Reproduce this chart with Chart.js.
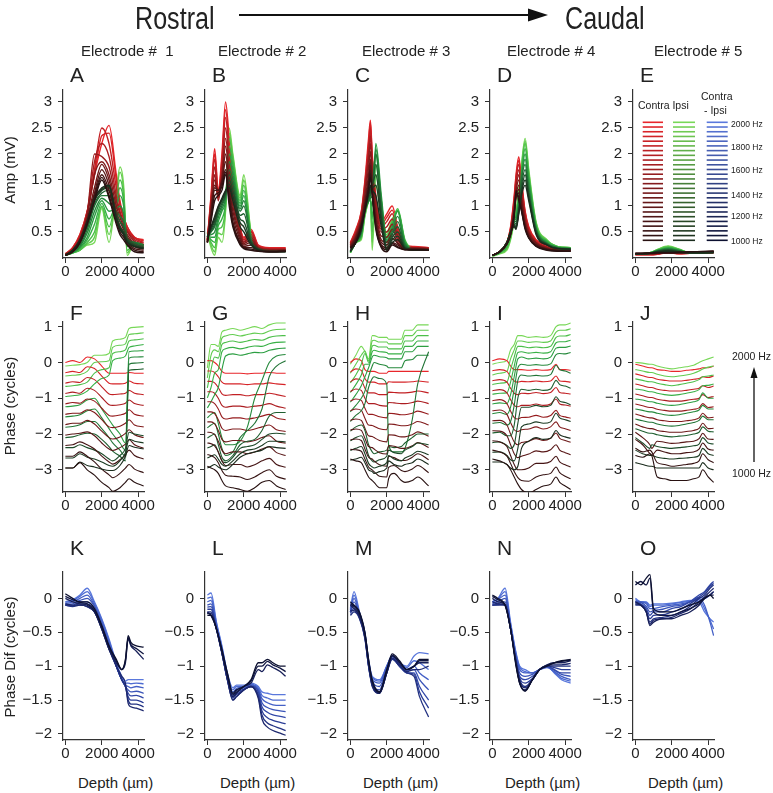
<!DOCTYPE html>
<html>
<head>
<meta charset="utf-8">
<script src="https://cdn.jsdelivr.net/npm/chart.js@4.4.0/dist/chart.umd.min.js"></script>
<style>
  html, body { margin: 0; padding: 0; background: #fff; }
  #fig { position: relative; width: 773px; height: 793px; overflow: hidden;
         font-family: "Liberation Sans", Arial, sans-serif; color: #222; }
  #fig canvas { position: absolute; }
  .t { position: absolute; white-space: pre; line-height: 1; }
</style>
</head>
<body>
<div id="fig"></div>
<script>
// ---- shared labels / ticks ----
const FREQS = [2000, 1900, 1800, 1700, 1600, 1500, 1400, 1300, 1200, 1100, 1000];
const CONTRA = ['#e8262b', '#d62327', '#c22024', '#ac1d21', '#961c1e', '#801a1b', '#6c1919', '#581717', '#461515', '#361313', '#281111'];
const IPSI = ['#78d858', '#62cc50', '#4cbf4a', '#38b046', '#2c9e42', '#26893c', '#217436', '#1f5f30', '#1e4b2a', '#1c3b23', '#1a2c1d'];
const DIFF = ['#5a78dc', '#4e6cd2', '#4460c6', '#3a54b8', '#3248a8', '#2a3d96', '#233282', '#1d286e', '#171f58', '#111742', '#0c1030'];
const X_TICKS = [0, 2000, 4000];
const AMP_TICKS = [0.5, 1, 1.5, 2, 2.5, 3];
const PHASE_TICKS = [1, 0, -1, -2, -3];
const DIF_TICKS = [0, -0.5, -1, -1.5, -2];
const ELECTRODES = ['Electrode #  1', 'Electrode # 2', 'Electrode # 3', 'Electrode # 4', 'Electrode # 5'];
const LETTERS = ['ABCDE', 'FGHIJ', 'KLMNO'];

// ---- amplitude (mV) vs depth (um); rows = 2000..1000 Hz ----
const depthA = [0, 400, 800, 1200, 1600, 2000, 2400, 2800, 3000, 3200, 3400, 3800, 4300];
const contraA = [
  [0.08, 0.2, 0.45, 0.9, 1.6, 2.2, 2.55, 1.6, 1.1, 0.8, 0.6, 0.4, 0.35],
  [0.08, 0.2, 0.45, 0.9, 1.6, 2.35, 2.4, 1.5, 1.05, 0.8, 0.6, 0.4, 0.33],
  [0.07, 0.18, 0.42, 0.88, 1.7, 2.5, 2.2, 1.35, 1.0, 0.75, 0.55, 0.38, 0.3],
  [0.07, 0.17, 0.4, 0.88, 1.85, 2.2, 1.95, 1.2, 0.9, 0.7, 0.52, 0.35, 0.28],
  [0.06, 0.16, 0.38, 0.85, 2.0, 1.95, 1.75, 1.1, 0.85, 0.65, 0.5, 0.32, 0.25],
  [0.06, 0.15, 0.36, 0.8, 1.6, 1.85, 1.6, 1.0, 0.78, 0.6, 0.45, 0.28, 0.22],
  [0.06, 0.15, 0.35, 0.75, 1.35, 1.8, 1.5, 0.9, 0.7, 0.55, 0.4, 0.25, 0.2],
  [0.05, 0.14, 0.33, 0.72, 1.25, 1.7, 1.4, 0.82, 0.62, 0.5, 0.35, 0.22, 0.17],
  [0.05, 0.13, 0.3, 0.7, 1.2, 1.6, 1.3, 0.75, 0.55, 0.45, 0.3, 0.18, 0.15],
  [0.05, 0.12, 0.3, 0.68, 1.15, 1.55, 1.2, 0.7, 0.5, 0.4, 0.27, 0.15, 0.12],
  [0.05, 0.12, 0.3, 0.65, 1.1, 1.5, 1.15, 0.65, 0.45, 0.35, 0.25, 0.12, 0.1]
];
const ipsiA = [
  [0.05, 0.1, 0.15, 0.25, 0.3, 0.95, 0.3, 1.3, 1.75, 1.4, 0.05, 0.3, 0.25],
  [0.05, 0.1, 0.15, 0.27, 0.4, 0.98, 0.45, 1.25, 1.65, 1.3, 0.1, 0.3, 0.25],
  [0.05, 0.1, 0.15, 0.3, 0.5, 1.0, 0.6, 1.2, 1.5, 1.2, 0.15, 0.3, 0.25],
  [0.05, 0.1, 0.18, 0.35, 0.65, 1.05, 0.75, 1.1, 1.35, 1.1, 0.22, 0.3, 0.25],
  [0.05, 0.1, 0.2, 0.4, 0.8, 1.1, 0.9, 1.0, 1.2, 1.0, 0.3, 0.3, 0.25],
  [0.05, 0.11, 0.22, 0.48, 0.9, 1.15, 1.05, 0.95, 1.0, 0.85, 0.35, 0.3, 0.25],
  [0.05, 0.12, 0.25, 0.55, 1.0, 1.2, 1.2, 0.9, 0.8, 0.7, 0.4, 0.3, 0.25],
  [0.05, 0.12, 0.28, 0.6, 1.05, 1.25, 1.3, 0.85, 0.7, 0.6, 0.38, 0.28, 0.22],
  [0.05, 0.13, 0.3, 0.65, 1.1, 1.3, 1.35, 0.8, 0.6, 0.5, 0.35, 0.25, 0.2],
  [0.06, 0.14, 0.32, 0.68, 1.12, 1.32, 1.38, 0.78, 0.58, 0.48, 0.32, 0.23, 0.19],
  [0.06, 0.15, 0.35, 0.7, 1.15, 1.35, 1.4, 0.75, 0.55, 0.45, 0.3, 0.22, 0.18]
];

const depthB = [0, 200, 400, 600, 800, 1000, 1200, 1400, 1800, 2000, 2400, 2800, 3400, 4300];
const contraB = [
  [0.35, 1.2, 2.1, 1.3, 2.0, 3.0, 2.3, 1.5, 0.6, 0.4, 0.55, 0.25, 0.2, 0.2],
  [0.35, 1.15, 2.0, 1.25, 1.9, 2.85, 2.15, 1.4, 0.58, 0.38, 0.52, 0.24, 0.19, 0.19],
  [0.35, 1.1, 1.9, 1.2, 1.8, 2.7, 2.0, 1.3, 0.55, 0.35, 0.5, 0.22, 0.18, 0.18],
  [0.34, 1.05, 1.75, 1.15, 1.7, 2.5, 1.85, 1.2, 0.52, 0.32, 0.45, 0.21, 0.17, 0.17],
  [0.33, 1.0, 1.6, 1.1, 1.6, 2.3, 1.7, 1.1, 0.5, 0.3, 0.4, 0.2, 0.16, 0.16],
  [0.32, 0.95, 1.5, 1.2, 1.55, 2.15, 1.55, 1.0, 0.45, 0.28, 0.35, 0.19, 0.15, 0.15],
  [0.3, 0.9, 1.4, 1.3, 1.5, 2.0, 1.4, 0.9, 0.4, 0.25, 0.3, 0.18, 0.14, 0.15],
  [0.3, 0.85, 1.35, 1.3, 1.48, 1.85, 1.3, 0.8, 0.35, 0.22, 0.25, 0.16, 0.13, 0.14],
  [0.3, 0.8, 1.3, 1.3, 1.45, 1.7, 1.2, 0.7, 0.3, 0.2, 0.2, 0.15, 0.13, 0.14],
  [0.3, 0.75, 1.2, 1.25, 1.38, 1.65, 1.1, 0.65, 0.28, 0.19, 0.17, 0.14, 0.12, 0.13],
  [0.3, 0.7, 1.1, 1.2, 1.3, 1.6, 1.0, 0.6, 0.25, 0.18, 0.15, 0.13, 0.12, 0.13]
];
const ipsiB = [
  [0.5, 0.2, 0.05, 0.4, 0.3, 0.9, 2.5, 2.0, 1.2, 1.6, 0.5, 0.2, 0.15, 0.15],
  [0.48, 0.25, 0.12, 0.48, 0.45, 0.95, 2.4, 1.95, 1.15, 1.5, 0.48, 0.2, 0.15, 0.15],
  [0.45, 0.3, 0.2, 0.55, 0.6, 1.0, 2.3, 1.9, 1.1, 1.4, 0.45, 0.2, 0.15, 0.15],
  [0.45, 0.35, 0.3, 0.62, 0.75, 1.05, 2.15, 1.8, 1.05, 1.3, 0.42, 0.19, 0.14, 0.14],
  [0.45, 0.4, 0.4, 0.7, 0.9, 1.1, 2.0, 1.7, 1.0, 1.2, 0.4, 0.18, 0.14, 0.14],
  [0.42, 0.45, 0.5, 0.78, 0.95, 1.15, 1.85, 1.6, 0.95, 1.1, 0.38, 0.18, 0.14, 0.14],
  [0.4, 0.5, 0.6, 0.85, 1.0, 1.2, 1.7, 1.5, 0.9, 1.0, 0.35, 0.18, 0.14, 0.14],
  [0.4, 0.52, 0.65, 0.9, 1.05, 1.22, 1.6, 1.4, 0.82, 0.85, 0.32, 0.17, 0.13, 0.13],
  [0.4, 0.55, 0.7, 0.95, 1.1, 1.25, 1.5, 1.3, 0.75, 0.7, 0.3, 0.17, 0.13, 0.13],
  [0.4, 0.58, 0.75, 0.98, 1.12, 1.28, 1.42, 1.2, 0.68, 0.6, 0.28, 0.16, 0.12, 0.12],
  [0.4, 0.6, 0.8, 1.0, 1.15, 1.3, 1.35, 1.1, 0.6, 0.5, 0.25, 0.15, 0.12, 0.12]
];

const depthC = [0, 300, 600, 800, 1000, 1100, 1200, 1400, 1700, 2000, 2300, 2600, 3000, 3500, 4300];
const contraC = [
  [0.3, 0.55, 0.9, 1.5, 2.3, 2.65, 2.0, 1.2, 0.7, 0.85, 1.0, 0.6, 0.25, 0.22, 0.2],
  [0.29, 0.52, 0.88, 1.45, 2.2, 2.6, 1.95, 1.15, 0.65, 0.78, 0.92, 0.55, 0.24, 0.21, 0.2],
  [0.28, 0.5, 0.85, 1.4, 2.1, 2.5, 1.9, 1.1, 0.6, 0.7, 0.85, 0.5, 0.22, 0.2, 0.2],
  [0.26, 0.48, 0.82, 1.35, 2.0, 2.35, 1.8, 1.05, 0.55, 0.6, 0.75, 0.45, 0.21, 0.2, 0.19],
  [0.25, 0.45, 0.8, 1.3, 1.9, 2.2, 1.7, 1.0, 0.5, 0.5, 0.65, 0.4, 0.2, 0.2, 0.18],
  [0.24, 0.42, 0.75, 1.2, 1.75, 2.05, 1.6, 0.9, 0.42, 0.4, 0.55, 0.35, 0.19, 0.19, 0.18],
  [0.22, 0.4, 0.7, 1.1, 1.6, 1.9, 1.5, 0.8, 0.35, 0.3, 0.45, 0.3, 0.18, 0.18, 0.17],
  [0.21, 0.38, 0.68, 1.05, 1.5, 1.8, 1.4, 0.72, 0.3, 0.25, 0.38, 0.28, 0.18, 0.17, 0.16],
  [0.2, 0.35, 0.65, 1.0, 1.4, 1.7, 1.3, 0.65, 0.25, 0.2, 0.3, 0.25, 0.17, 0.17, 0.16],
  [0.19, 0.32, 0.62, 0.95, 1.35, 1.62, 1.25, 0.6, 0.22, 0.16, 0.28, 0.22, 0.16, 0.16, 0.15],
  [0.18, 0.3, 0.6, 0.9, 1.3, 1.55, 1.2, 0.55, 0.2, 0.12, 0.25, 0.2, 0.16, 0.16, 0.15]
];
const ipsiC = [
  [0.1, 0.3, 0.35, 0.8, 1.1, 1.2, 0.15, 1.4, 0.8, 0.5, 0.75, 0.9, 0.3, 0.15, 0.15],
  [0.1, 0.3, 0.38, 0.82, 1.1, 1.18, 0.3, 1.6, 0.9, 0.45, 0.72, 0.92, 0.32, 0.16, 0.15],
  [0.1, 0.3, 0.4, 0.85, 1.1, 1.15, 0.5, 1.8, 1.0, 0.4, 0.7, 0.95, 0.35, 0.18, 0.15],
  [0.11, 0.3, 0.42, 0.88, 1.1, 1.12, 0.75, 2.0, 1.1, 0.38, 0.65, 0.92, 0.32, 0.18, 0.16],
  [0.12, 0.3, 0.45, 0.9, 1.1, 1.1, 1.0, 2.2, 1.2, 0.35, 0.6, 0.9, 0.3, 0.18, 0.16],
  [0.12, 0.3, 0.48, 0.9, 1.1, 1.15, 1.2, 2.1, 1.1, 0.32, 0.55, 0.8, 0.28, 0.17, 0.16],
  [0.12, 0.3, 0.5, 0.9, 1.1, 1.2, 1.4, 2.0, 1.0, 0.3, 0.5, 0.7, 0.25, 0.17, 0.16],
  [0.12, 0.3, 0.52, 0.92, 1.15, 1.25, 1.4, 1.8, 0.9, 0.25, 0.45, 0.6, 0.22, 0.16, 0.15],
  [0.13, 0.3, 0.55, 0.95, 1.2, 1.3, 1.4, 1.6, 0.8, 0.2, 0.4, 0.5, 0.2, 0.16, 0.15],
  [0.13, 0.3, 0.55, 0.95, 1.22, 1.35, 1.35, 1.4, 0.7, 0.18, 0.35, 0.42, 0.19, 0.15, 0.15],
  [0.13, 0.3, 0.55, 0.95, 1.25, 1.4, 1.3, 1.2, 0.6, 0.15, 0.3, 0.35, 0.18, 0.15, 0.15]
];

const depthD = [0, 400, 800, 1000, 1200, 1300, 1450, 1600, 1800, 2000, 2400, 3000, 3600, 4300];
const contraD = [
  [0.05, 0.12, 0.3, 0.6, 1.2, 1.6, 1.95, 1.5, 0.9, 0.6, 0.35, 0.25, 0.18, 0.17],
  [0.05, 0.12, 0.3, 0.58, 1.15, 1.55, 1.88, 1.45, 0.88, 0.58, 0.34, 0.24, 0.18, 0.17],
  [0.05, 0.12, 0.3, 0.55, 1.1, 1.5, 1.8, 1.4, 0.85, 0.55, 0.32, 0.22, 0.17, 0.16],
  [0.05, 0.12, 0.3, 0.52, 1.05, 1.42, 1.7, 1.32, 0.8, 0.52, 0.31, 0.21, 0.17, 0.16],
  [0.05, 0.12, 0.3, 0.5, 1.0, 1.35, 1.6, 1.25, 0.75, 0.5, 0.3, 0.2, 0.16, 0.15],
  [0.05, 0.12, 0.29, 0.5, 0.95, 1.28, 1.5, 1.18, 0.7, 0.48, 0.29, 0.19, 0.16, 0.15],
  [0.05, 0.12, 0.28, 0.5, 0.9, 1.2, 1.4, 1.1, 0.65, 0.45, 0.28, 0.18, 0.15, 0.15],
  [0.05, 0.12, 0.28, 0.48, 0.88, 1.18, 1.32, 1.02, 0.62, 0.42, 0.26, 0.17, 0.15, 0.14],
  [0.05, 0.12, 0.28, 0.45, 0.85, 1.15, 1.25, 0.95, 0.6, 0.4, 0.25, 0.17, 0.14, 0.14],
  [0.05, 0.12, 0.27, 0.45, 0.82, 1.22, 1.18, 0.92, 0.58, 0.39, 0.23, 0.16, 0.14, 0.13],
  [0.05, 0.12, 0.27, 0.45, 0.8, 1.3, 1.1, 0.9, 0.55, 0.38, 0.22, 0.15, 0.13, 0.13]
];
const ipsiD = [
  [0.03, 0.08, 0.15, 0.35, 0.7, 0.9, 1.3, 1.8, 2.3, 1.7, 0.7, 0.35, 0.22, 0.2],
  [0.04, 0.09, 0.18, 0.38, 0.72, 0.88, 1.25, 1.75, 2.25, 1.65, 0.68, 0.34, 0.22, 0.2],
  [0.04, 0.1, 0.2, 0.4, 0.75, 0.85, 1.2, 1.7, 2.2, 1.6, 0.65, 0.33, 0.22, 0.2],
  [0.05, 0.1, 0.22, 0.42, 0.75, 0.82, 1.15, 1.65, 2.1, 1.55, 0.62, 0.32, 0.21, 0.19],
  [0.05, 0.1, 0.25, 0.45, 0.75, 0.8, 1.1, 1.6, 2.0, 1.5, 0.6, 0.3, 0.2, 0.18],
  [0.05, 0.11, 0.27, 0.48, 0.72, 0.75, 1.05, 1.55, 1.9, 1.4, 0.58, 0.29, 0.2, 0.18],
  [0.05, 0.12, 0.28, 0.5, 0.7, 0.7, 1.0, 1.5, 1.8, 1.3, 0.55, 0.28, 0.2, 0.18],
  [0.05, 0.12, 0.29, 0.5, 0.68, 0.65, 0.95, 1.4, 1.7, 1.25, 0.52, 0.27, 0.19, 0.17],
  [0.05, 0.12, 0.3, 0.5, 0.65, 0.6, 0.9, 1.3, 1.6, 1.2, 0.5, 0.26, 0.18, 0.17],
  [0.05, 0.12, 0.3, 0.5, 0.62, 0.58, 0.88, 1.25, 1.5, 1.15, 0.48, 0.25, 0.18, 0.17],
  [0.05, 0.12, 0.3, 0.5, 0.6, 0.55, 0.85, 1.2, 1.4, 1.1, 0.45, 0.25, 0.18, 0.17]
];

const depthE = [0, 800, 1200, 1800, 2400, 3000, 4300];
const contraE = [
  [0.06, 0.06, 0.07, 0.1, 0.08, 0.09, 0.1],
  [0.06, 0.06, 0.07, 0.11, 0.08, 0.09, 0.1],
  [0.07, 0.07, 0.08, 0.12, 0.09, 0.1, 0.11],
  [0.07, 0.07, 0.08, 0.12, 0.09, 0.1, 0.11],
  [0.07, 0.08, 0.09, 0.12, 0.1, 0.1, 0.12],
  [0.08, 0.08, 0.09, 0.11, 0.1, 0.1, 0.12],
  [0.08, 0.08, 0.09, 0.11, 0.1, 0.11, 0.12],
  [0.08, 0.09, 0.1, 0.1, 0.1, 0.11, 0.12],
  [0.08, 0.09, 0.1, 0.1, 0.1, 0.11, 0.13],
  [0.09, 0.09, 0.1, 0.1, 0.11, 0.12, 0.13],
  [0.09, 0.09, 0.1, 0.1, 0.11, 0.12, 0.13]
];
const ipsiE = [
  [0.07, 0.1, 0.16, 0.23, 0.17, 0.1, 0.12],
  [0.07, 0.1, 0.16, 0.22, 0.17, 0.1, 0.12],
  [0.07, 0.1, 0.15, 0.21, 0.16, 0.1, 0.12],
  [0.07, 0.1, 0.15, 0.2, 0.16, 0.1, 0.11],
  [0.07, 0.1, 0.14, 0.19, 0.15, 0.1, 0.11],
  [0.07, 0.09, 0.14, 0.18, 0.14, 0.1, 0.11],
  [0.07, 0.09, 0.13, 0.17, 0.14, 0.1, 0.11],
  [0.07, 0.09, 0.13, 0.16, 0.13, 0.1, 0.11],
  [0.07, 0.09, 0.12, 0.15, 0.12, 0.1, 0.11],
  [0.07, 0.09, 0.12, 0.14, 0.12, 0.1, 0.1],
  [0.07, 0.09, 0.11, 0.13, 0.11, 0.1, 0.1]
];

// ---- phase (cycles) vs depth ----
const depthF = [0, 400, 800, 1200, 1600, 2000, 2400, 2600, 3000, 3300, 3500, 3800, 4300];
const contraF = [
  [0.0, 0.05, 0.0, 0.15, 0.1, -0.1, -0.3, -0.3, -0.3, -0.3, -0.28, -0.3, -0.3],
  [-0.29, -0.25, -0.28, -0.12, -0.17, -0.38, -0.58, -0.6, -0.6, -0.58, -0.52, -0.58, -0.6],
  [-0.58, -0.54, -0.56, -0.42, -0.48, -0.68, -0.88, -0.9, -0.88, -0.86, -0.78, -0.86, -0.9],
  [-0.87, -0.83, -0.86, -0.72, -0.78, -0.98, -1.18, -1.2, -1.18, -1.14, -1.05, -1.15, -1.2],
  [-1.16, -1.12, -1.14, -1.02, -1.08, -1.28, -1.48, -1.5, -1.47, -1.42, -1.32, -1.45, -1.5],
  [-1.45, -1.42, -1.42, -1.32, -1.4, -1.6, -1.8, -1.82, -1.78, -1.7, -1.6, -1.75, -1.8],
  [-1.74, -1.7, -1.7, -1.62, -1.72, -1.92, -2.1, -2.14, -2.08, -1.98, -1.88, -2.02, -2.1],
  [-2.03, -2.0, -1.98, -1.94, -2.05, -2.25, -2.42, -2.46, -2.38, -2.28, -2.16, -2.3, -2.4],
  [-2.32, -2.3, -2.22, -2.3, -2.42, -2.62, -2.78, -2.84, -2.72, -2.58, -2.45, -2.6, -2.7],
  [-2.62, -2.62, -2.5, -2.62, -2.78, -2.98, -3.14, -3.22, -3.1, -2.95, -2.85, -2.98, -3.08],
  [-2.95, -2.95, -2.8, -3.0, -3.15, -3.35, -3.5, -3.6, -3.5, -3.35, -3.25, -3.35, -3.45]
];
const ipsiF = [
  [-0.1, -0.08, -0.06, 0.0, 0.2, 0.2, 0.25, 0.6, 0.65, 0.7, 0.95, 0.98, 1.0],
  [-0.38, -0.36, -0.34, -0.25, 0.0, 0.02, 0.05, 0.42, 0.48, 0.52, 0.78, 0.8, 0.83],
  [-0.67, -0.65, -0.62, -0.55, -0.3, -0.2, -0.15, 0.25, 0.3, 0.35, 0.6, 0.63, 0.66],
  [-0.95, -0.93, -0.9, -0.8, -0.6, -0.45, -0.35, 0.05, 0.12, 0.18, 0.42, 0.46, 0.5],
  [-1.24, -1.22, -1.18, -1.05, -1.0, -1.3, -1.6, -1.75, -2.0, -2.25, 0.3, 0.32, 0.33],
  [-1.52, -1.5, -1.46, -1.35, -1.3, -1.55, -1.85, -2.0, -2.25, -2.45, 0.12, 0.15, 0.16],
  [-1.81, -1.79, -1.74, -1.65, -1.65, -1.85, -2.1, -2.25, -2.45, -2.62, -0.05, -0.02, 0.0],
  [-2.1, -2.08, -2.02, -1.98, -2.0, -2.15, -2.35, -2.48, -2.62, -2.75, -0.22, -0.2, -0.18],
  [-2.38, -2.38, -2.3, -2.38, -2.45, -2.55, -2.7, -2.75, -2.6, -2.4, -1.95, -2.0, -2.05],
  [-2.67, -2.67, -2.55, -2.65, -2.7, -2.78, -2.88, -2.9, -2.75, -2.52, -2.15, -2.2, -2.25],
  [-2.95, -2.95, -2.78, -2.88, -2.92, -2.98, -3.02, -3.02, -2.88, -2.62, -2.32, -2.37, -2.42]
];

const depthG = [0, 200, 400, 600, 800, 1000, 1400, 1800, 2200, 2600, 3000, 3400, 3800, 4300];
const contraG = [
  [0.05, 0.05, 0.0, -0.1, -0.25, -0.3, -0.3, -0.3, -0.32, -0.3, -0.3, -0.28, -0.3, -0.3],
  [-0.24, -0.24, -0.28, -0.4, -0.55, -0.6, -0.6, -0.6, -0.62, -0.6, -0.6, -0.57, -0.6, -0.62],
  [-0.53, -0.53, -0.57, -0.7, -0.88, -0.92, -0.9, -0.9, -0.93, -0.9, -0.9, -0.86, -0.9, -0.95],
  [-0.82, -0.82, -0.86, -1.0, -1.2, -1.25, -1.22, -1.22, -1.25, -1.22, -1.2, -1.15, -1.22, -1.28],
  [-1.1, -1.1, -1.15, -1.3, -1.52, -1.58, -1.55, -1.55, -1.58, -1.55, -1.5, -1.45, -1.55, -1.6],
  [-1.38, -1.38, -1.43, -1.6, -1.84, -1.9, -1.86, -1.86, -1.9, -1.86, -1.8, -1.75, -1.88, -1.93],
  [-1.66, -1.66, -1.72, -1.9, -2.15, -2.22, -2.18, -2.18, -2.22, -2.18, -2.1, -2.05, -2.2, -2.26],
  [-1.95, -1.96, -2.02, -2.2, -2.45, -2.55, -2.5, -2.5, -2.55, -2.5, -2.42, -2.36, -2.52, -2.6],
  [-2.25, -2.27, -2.33, -2.5, -2.75, -2.88, -2.85, -2.85, -2.92, -2.86, -2.75, -2.68, -2.85, -2.93],
  [-2.57, -2.6, -2.66, -2.8, -3.02, -3.15, -3.18, -3.2, -3.27, -3.2, -3.08, -3.0, -3.18, -3.26],
  [-2.9, -2.95, -3.0, -3.1, -3.3, -3.45, -3.5, -3.55, -3.6, -3.5, -3.35, -3.3, -3.45, -3.55]
];
const ipsiG = [
  [-0.15, 0.5, 0.5, 0.45, 0.85, 0.9, 0.95, 0.9, 0.95, 1.0, 0.95, 1.05, 1.1, 1.1],
  [-0.43, 0.2, 0.35, 0.3, 0.68, 0.74, 0.78, 0.74, 0.78, 0.82, 0.8, 0.88, 0.92, 0.93],
  [-0.71, -0.2, 0.15, 0.12, 0.5, 0.56, 0.6, 0.56, 0.6, 0.64, 0.62, 0.7, 0.74, 0.75],
  [-0.99, -0.7, -0.3, -0.2, 0.3, 0.38, 0.42, 0.38, 0.42, 0.46, 0.45, 0.52, 0.56, 0.57],
  [-1.27, -1.1, -0.9, -0.7, -0.2, 0.18, 0.24, 0.2, 0.24, 0.28, 0.27, 0.34, 0.38, 0.4],
  [-1.55, -1.45, -1.4, -1.7, -2.1, -2.3, -2.3, -2.2, -1.8, -1.0, -0.5, 0.0, 0.18, 0.22],
  [-1.83, -1.75, -1.7, -2.0, -2.4, -2.6, -2.5, -2.1, -1.9, -1.7, -1.3, -0.4, -0.1, 0.05],
  [-2.11, -2.05, -2.0, -2.3, -2.65, -2.75, -2.6, -2.3, -2.2, -2.15, -1.9, -1.5, -1.4, -1.4],
  [-2.39, -2.35, -2.3, -2.5, -2.75, -2.8, -2.65, -2.4, -2.35, -2.3, -2.15, -2.0, -1.98, -2.0],
  [-2.67, -2.62, -2.58, -2.7, -2.85, -2.9, -2.75, -2.55, -2.45, -2.42, -2.32, -2.2, -2.2, -2.22],
  [-2.95, -2.9, -2.85, -2.92, -2.98, -3.0, -2.85, -2.65, -2.55, -2.5, -2.45, -2.35, -2.38, -2.4]
];

const depthH = [0, 300, 600, 800, 1000, 1200, 1300, 1600, 2000, 2100, 2400, 2800, 3000, 3400, 3700, 4300];
const contraH = [
  [0.0, 0.1, 0.05, -0.2, -0.25, -0.25, -0.25, -0.3, -0.3, -0.25, -0.25, -0.25, -0.25, -0.25, -0.25, -0.25],
  [-0.27, -0.18, -0.22, -0.45, -0.55, -0.55, -0.55, -0.6, -0.6, -0.54, -0.55, -0.55, -0.55, -0.54, -0.52, -0.55],
  [-0.54, -0.46, -0.5, -0.72, -0.85, -0.85, -0.85, -0.9, -0.9, -0.83, -0.84, -0.85, -0.85, -0.83, -0.8, -0.85],
  [-0.81, -0.74, -0.78, -1.0, -1.15, -1.15, -1.15, -1.2, -1.22, -1.12, -1.13, -1.15, -1.15, -1.12, -1.08, -1.15],
  [-1.08, -1.02, -1.06, -1.28, -1.45, -1.45, -1.46, -1.52, -1.55, -1.42, -1.43, -1.46, -1.46, -1.42, -1.36, -1.45],
  [-1.35, -1.3, -1.34, -1.56, -1.75, -1.76, -1.78, -1.85, -1.88, -1.72, -1.73, -1.77, -1.77, -1.72, -1.65, -1.75],
  [-1.62, -1.58, -1.62, -1.84, -2.05, -2.07, -2.1, -2.18, -2.22, -2.02, -2.03, -2.08, -2.08, -2.02, -1.94, -2.06],
  [-1.89, -1.86, -1.9, -2.12, -2.35, -2.38, -2.42, -2.52, -2.56, -2.32, -2.34, -2.4, -2.4, -2.33, -2.24, -2.38],
  [-2.16, -2.14, -2.18, -2.42, -2.65, -2.7, -2.75, -2.86, -2.9, -2.62, -2.66, -2.74, -2.74, -2.65, -2.55, -2.72],
  [-2.43, -2.44, -2.48, -2.7, -2.92, -3.0, -3.05, -3.18, -3.2, -2.93, -2.88, -3.02, -3.05, -2.98, -2.88, -3.08],
  [-2.7, -2.75, -2.8, -3.0, -3.2, -3.3, -3.35, -3.5, -3.5, -3.25, -3.1, -3.3, -3.35, -3.3, -3.2, -3.45]
];
const ipsiH = [
  [-0.05, 0.2, 0.45, 0.3, 0.1, 0.75, 0.75, 0.7, 0.7, 0.65, 0.65, 0.65, 0.9, 0.9, 1.05, 1.05],
  [-0.3, -0.05, 0.2, 0.32, 0.05, 0.6, 0.62, 0.57, 0.57, 0.52, 0.52, 0.52, 0.75, 0.75, 0.9, 0.9],
  [-0.57, -0.35, -0.05, 0.25, 0.0, 0.45, 0.48, 0.43, 0.43, 0.38, 0.38, 0.38, 0.6, 0.6, 0.75, 0.75],
  [-0.84, -0.62, -0.35, -0.05, -0.05, 0.3, 0.34, 0.3, 0.28, 0.24, 0.24, 0.24, 0.45, 0.45, 0.6, 0.6],
  [-1.11, -0.9, -0.65, -0.4, -0.15, 0.15, 0.2, 0.16, 0.13, 0.1, 0.1, 0.1, 0.3, 0.3, 0.45, 0.45],
  [-1.38, -1.2, -1.0, -0.8, -0.4, -0.1, 0.0, -0.05, -0.1, -0.15, -0.15, -0.15, 0.05, 0.08, 0.2, 0.2],
  [-1.65, -1.48, -1.35, -1.15, -0.7, -0.45, -0.4, -0.45, -0.6, -2.3, -2.5, -2.5, -2.4, -1.6, -0.6, 0.3],
  [-1.92, -1.8, -1.75, -1.9, -2.3, -2.5, -2.55, -2.5, -2.45, -2.35, -2.38, -2.35, -2.25, -2.1, -2.0, -2.0],
  [-2.19, -2.1, -2.05, -2.25, -2.6, -2.75, -2.78, -2.72, -2.62, -2.45, -2.52, -2.55, -2.45, -2.35, -2.25, -2.3],
  [-2.46, -2.4, -2.35, -2.55, -2.82, -2.92, -2.95, -2.9, -2.8, -2.6, -2.7, -2.75, -2.67, -2.58, -2.48, -2.58],
  [-2.73, -2.7, -2.65, -2.8, -3.0, -3.05, -3.1, -3.05, -2.95, -2.75, -2.85, -2.9, -2.85, -2.8, -2.7, -2.85]
];

const depthI = [0, 400, 800, 1000, 1200, 1400, 1600, 2000, 2400, 2800, 3200, 3500, 3700, 4000, 4300];
const contraI = [
  [0.05, 0.1, 0.05, -0.1, -0.2, -0.2, -0.2, -0.22, -0.2, -0.22, -0.2, -0.05, -0.2, -0.2, -0.22],
  [-0.23, -0.2, -0.25, -0.4, -0.52, -0.55, -0.53, -0.54, -0.52, -0.54, -0.52, -0.38, -0.52, -0.53, -0.55],
  [-0.51, -0.48, -0.55, -0.72, -0.86, -0.9, -0.86, -0.87, -0.84, -0.87, -0.84, -0.7, -0.84, -0.86, -0.88],
  [-0.79, -0.76, -0.85, -1.04, -1.2, -1.24, -1.2, -1.2, -1.16, -1.2, -1.16, -1.02, -1.16, -1.19, -1.22],
  [-1.07, -1.04, -1.15, -1.36, -1.54, -1.58, -1.54, -1.53, -1.48, -1.53, -1.48, -1.34, -1.48, -1.52, -1.56],
  [-1.35, -1.33, -1.45, -1.68, -1.88, -1.93, -1.88, -1.86, -1.8, -1.86, -1.8, -1.66, -1.8, -1.85, -1.9],
  [-1.63, -1.62, -1.75, -2.0, -2.22, -2.3, -2.24, -2.2, -2.13, -2.18, -2.12, -1.97, -2.12, -2.18, -2.23],
  [-1.91, -1.92, -2.05, -2.3, -2.55, -2.66, -2.62, -2.56, -2.47, -2.5, -2.44, -2.3, -2.45, -2.52, -2.58],
  [-2.19, -2.22, -2.35, -2.6, -2.85, -3.0, -3.0, -2.95, -2.82, -2.82, -2.77, -2.62, -2.78, -2.86, -2.92],
  [-2.45, -2.5, -2.62, -2.82, -3.05, -3.22, -3.3, -3.32, -3.2, -3.14, -3.1, -2.92, -3.08, -3.18, -3.25],
  [-2.7, -2.75, -2.85, -3.0, -3.2, -3.4, -3.55, -3.65, -3.55, -3.45, -3.4, -3.2, -3.35, -3.45, -3.55]
];
const ipsiI = [
  [-0.05, 0.0, 0.05, 0.35, 0.5, 0.75, 0.75, 0.7, 0.72, 0.7, 0.75, 1.0, 1.05, 1.05, 1.1],
  [-0.35, -0.3, -0.25, 0.1, 0.35, 0.6, 0.6, 0.56, 0.58, 0.56, 0.6, 0.85, 0.9, 0.9, 0.94],
  [-0.62, -0.58, -0.55, -0.2, 0.15, 0.45, 0.45, 0.41, 0.43, 0.41, 0.45, 0.7, 0.74, 0.74, 0.78],
  [-0.89, -0.86, -0.85, -0.55, -0.1, 0.28, 0.3, 0.26, 0.28, 0.26, 0.3, 0.55, 0.58, 0.58, 0.62],
  [-1.16, -1.13, -1.15, -0.9, -0.4, 0.1, 0.15, 0.1, 0.12, 0.1, 0.15, 0.4, 0.42, 0.42, 0.46],
  [-1.43, -1.4, -1.45, -1.25, -0.75, -0.15, -0.05, -0.08, -0.06, -0.08, -0.04, 0.22, 0.25, 0.24, 0.28],
  [-1.7, -1.68, -1.75, -1.65, -1.2, -0.5, -0.35, -0.38, -0.36, -0.38, -0.34, -0.08, -0.2, -0.24, -0.3],
  [-1.97, -1.95, -2.05, -2.05, -1.75, -1.0, -0.75, -0.78, -0.75, -0.78, -0.74, -0.5, -0.62, -0.66, -0.72],
  [-2.24, -2.22, -2.32, -2.4, -2.3, -1.7, -1.25, -1.25, -1.2, -1.24, -1.2, -0.96, -1.08, -1.12, -1.18],
  [-2.51, -2.5, -2.6, -2.72, -2.75, -2.4, -1.8, -1.72, -1.66, -1.7, -1.66, -1.42, -1.55, -1.6, -1.65],
  [-2.78, -2.78, -2.85, -2.95, -3.0, -2.9, -2.4, -2.2, -2.1, -2.15, -2.12, -1.9, -2.02, -2.08, -2.12]
];

const depthJ = [0, 400, 800, 900, 1200, 1600, 2000, 2400, 2800, 3200, 3500, 3700, 4000, 4300];
const contraJ = [
  [-0.05, -0.1, -0.15, -0.15, -0.2, -0.22, -0.25, -0.25, -0.22, -0.2, -0.18, -0.15, -0.15, -0.1],
  [-0.32, -0.37, -0.42, -0.42, -0.47, -0.5, -0.52, -0.52, -0.5, -0.47, -0.45, -0.4, -0.42, -0.38],
  [-0.6, -0.65, -0.7, -0.7, -0.75, -0.78, -0.8, -0.8, -0.78, -0.75, -0.72, -0.65, -0.7, -0.66],
  [-0.88, -0.93, -0.98, -0.98, -1.03, -1.06, -1.08, -1.08, -1.06, -1.03, -1.0, -0.9, -0.98, -0.95],
  [-1.16, -1.21, -1.26, -1.26, -1.31, -1.34, -1.36, -1.36, -1.34, -1.31, -1.27, -1.15, -1.26, -1.24],
  [-1.44, -1.5, -1.55, -1.55, -1.6, -1.63, -1.65, -1.65, -1.63, -1.6, -1.55, -1.42, -1.55, -1.53],
  [-1.72, -1.8, -1.85, -1.85, -1.9, -1.93, -1.95, -1.95, -1.93, -1.9, -1.84, -1.7, -1.85, -1.84],
  [-1.95, -2.1, -2.3, -2.4, -2.2, -2.23, -2.26, -2.25, -2.22, -2.2, -2.13, -1.98, -2.14, -2.15],
  [-2.15, -2.3, -2.55, -2.6, -2.45, -2.5, -2.55, -2.55, -2.52, -2.5, -2.42, -2.25, -2.42, -2.45],
  [-2.4, -2.5, -2.45, -2.5, -2.8, -2.85, -2.9, -2.88, -2.85, -2.82, -2.75, -2.55, -2.72, -2.8],
  [-2.6, -2.65, -2.55, -2.6, -3.2, -3.25, -3.3, -3.3, -3.3, -3.25, -3.2, -3.0, -3.2, -3.35]
];
const ipsiJ = [
  [0.0, -0.02, -0.05, -0.05, -0.1, -0.15, -0.18, -0.15, -0.12, -0.08, 0.0, 0.05, 0.1, 0.15],
  [-0.2, -0.24, -0.28, -0.28, -0.33, -0.38, -0.4, -0.38, -0.35, -0.3, -0.24, -0.18, -0.13, -0.1],
  [-0.46, -0.5, -0.54, -0.54, -0.58, -0.62, -0.65, -0.62, -0.58, -0.54, -0.48, -0.4, -0.38, -0.35],
  [-0.74, -0.77, -0.82, -0.82, -0.86, -0.9, -0.92, -0.9, -0.86, -0.82, -0.76, -0.65, -0.64, -0.6],
  [-1.02, -1.05, -1.1, -1.1, -1.14, -1.18, -1.2, -1.18, -1.14, -1.1, -1.04, -0.85, -1.0, -1.0],
  [-1.3, -1.34, -1.38, -1.38, -1.42, -1.46, -1.48, -1.46, -1.42, -1.38, -1.33, -1.2, -1.3, -1.3],
  [-1.58, -1.63, -1.67, -1.67, -1.72, -1.76, -1.78, -1.76, -1.72, -1.68, -1.62, -1.5, -1.6, -1.6],
  [-1.85, -1.92, -1.98, -1.98, -2.02, -2.06, -2.08, -2.06, -2.04, -2.0, -1.95, -1.8, -1.92, -1.94],
  [-2.1, -2.25, -2.4, -2.3, -2.35, -2.38, -2.4, -2.38, -2.36, -2.33, -2.28, -2.1, -2.25, -2.28],
  [-2.45, -2.55, -2.6, -2.6, -2.65, -2.68, -2.7, -2.68, -2.67, -2.65, -2.6, -2.4, -2.55, -2.6],
  [-2.8, -2.85, -2.9, -2.9, -2.95, -2.95, -2.95, -2.95, -2.95, -2.95, -2.95, -2.8, -2.95, -3.0]
];

// ---- phase difference contra - ipsi (cycles) ----
const depthK = [0, 400, 800, 1200, 1600, 2000, 2400, 2800, 3100, 3300, 3450, 3600, 3900, 4300];
const diffK = [
  [-0.05, -0.02, 0.05, 0.15, -0.05, -0.3, -0.6, -0.95, -1.15, -1.22, -1.2, -1.2, -1.2, -1.2],
  [-0.06, -0.03, 0.03, 0.1, -0.07, -0.32, -0.62, -0.97, -1.17, -1.25, -1.25, -1.26, -1.25, -1.26],
  [-0.08, -0.05, 0.0, 0.05, -0.1, -0.35, -0.65, -1.0, -1.2, -1.28, -1.3, -1.32, -1.3, -1.32],
  [-0.09, -0.08, -0.03, 0.0, -0.12, -0.38, -0.68, -1.0, -1.2, -1.3, -1.35, -1.38, -1.37, -1.4],
  [-0.1, -0.1, -0.05, -0.05, -0.15, -0.4, -0.7, -1.0, -1.2, -1.3, -1.4, -1.44, -1.43, -1.47],
  [-0.1, -0.11, -0.08, -0.08, -0.17, -0.42, -0.72, -1.0, -1.2, -1.3, -1.45, -1.5, -1.5, -1.54],
  [-0.1, -0.12, -0.1, -0.12, -0.2, -0.45, -0.75, -1.0, -1.2, -1.3, -1.5, -1.56, -1.56, -1.6],
  [-0.08, -0.1, -0.1, -0.12, -0.2, -0.45, -0.75, -1.0, -1.15, -1.25, -1.55, -1.6, -1.62, -1.66],
  [0.0, -0.05, -0.08, -0.1, -0.2, -0.45, -0.75, -0.95, -1.05, -0.95, -0.6, -0.7, -0.78, -0.9],
  [0.03, -0.02, -0.06, -0.08, -0.18, -0.42, -0.72, -0.92, -1.05, -0.92, -0.58, -0.68, -0.74, -0.82],
  [0.07, 0.0, -0.05, -0.05, -0.15, -0.4, -0.7, -0.9, -1.05, -0.9, -0.55, -0.65, -0.7, -0.72]
];

const depthL = [0, 200, 500, 800, 1100, 1400, 1600, 2000, 2400, 2800, 3000, 3300, 3600, 4000, 4300];
const diffL = [
  [0.05, 0.08, -0.35, -0.7, -1.1, -1.32, -1.28, -1.28, -1.25, -1.3, -1.38, -1.4, -1.42, -1.42, -1.42],
  [0.0, 0.02, -0.37, -0.72, -1.12, -1.35, -1.3, -1.3, -1.27, -1.32, -1.43, -1.47, -1.5, -1.5, -1.5],
  [-0.05, -0.03, -0.4, -0.75, -1.15, -1.38, -1.33, -1.3, -1.28, -1.34, -1.48, -1.54, -1.57, -1.58, -1.58],
  [-0.1, -0.08, -0.42, -0.77, -1.17, -1.41, -1.36, -1.32, -1.29, -1.36, -1.54, -1.61, -1.64, -1.66, -1.67],
  [-0.13, -0.12, -0.44, -0.8, -1.2, -1.44, -1.39, -1.34, -1.3, -1.38, -1.6, -1.68, -1.72, -1.74, -1.76],
  [-0.16, -0.16, -0.45, -0.8, -1.2, -1.47, -1.42, -1.35, -1.3, -1.42, -1.66, -1.76, -1.8, -1.83, -1.85],
  [-0.2, -0.2, -0.46, -0.81, -1.2, -1.5, -1.45, -1.35, -1.3, -1.45, -1.72, -1.84, -1.88, -1.92, -1.95],
  [-0.22, -0.22, -0.46, -0.81, -1.2, -1.5, -1.45, -1.35, -1.3, -1.48, -1.78, -1.9, -1.95, -1.99, -2.02],
  [-0.2, -0.25, -0.45, -0.8, -1.15, -1.45, -1.4, -1.3, -1.25, -1.05, -1.08, -0.98, -1.02, -1.08, -1.15],
  [-0.22, -0.25, -0.45, -0.78, -1.12, -1.42, -1.38, -1.3, -1.22, -1.0, -1.0, -0.93, -0.98, -1.03, -1.08],
  [-0.25, -0.25, -0.45, -0.75, -1.1, -1.4, -1.35, -1.3, -1.2, -0.95, -0.95, -0.9, -0.95, -1.0, -1.0]
];

const depthM = [0, 200, 500, 800, 1000, 1200, 1600, 2000, 2300, 2700, 3100, 3500, 3800, 4300];
const diffM = [
  [-0.15, 0.1, -0.2, -0.5, -0.9, -1.15, -1.2, -1.0, -0.85, -0.95, -1.0, -0.85, -0.8, -0.82],
  [-0.17, 0.05, -0.22, -0.52, -0.92, -1.17, -1.22, -1.0, -0.85, -0.95, -1.02, -0.92, -0.95, -1.05],
  [-0.2, 0.0, -0.25, -0.55, -0.95, -1.2, -1.25, -1.0, -0.85, -0.95, -1.05, -1.0, -1.1, -1.2],
  [-0.2, -0.05, -0.25, -0.55, -0.97, -1.22, -1.3, -1.02, -0.86, -0.97, -1.07, -1.05, -1.2, -1.35],
  [-0.2, -0.1, -0.25, -0.55, -1.0, -1.25, -1.35, -1.05, -0.88, -1.0, -1.1, -1.1, -1.3, -1.5],
  [-0.22, -0.15, -0.28, -0.58, -1.0, -1.28, -1.38, -1.08, -0.89, -1.0, -1.1, -1.12, -1.38, -1.62],
  [-0.25, -0.2, -0.3, -0.6, -1.0, -1.3, -1.4, -1.1, -0.9, -1.0, -1.1, -1.15, -1.45, -1.75],
  [-0.18, -0.18, -0.28, -0.58, -0.98, -1.28, -1.4, -1.1, -0.88, -0.98, -1.08, -1.05, -1.05, -1.0],
  [-0.1, -0.15, -0.25, -0.55, -0.95, -1.25, -1.4, -1.1, -0.85, -0.95, -1.05, -1.0, -0.95, -0.95],
  [-0.08, -0.12, -0.22, -0.52, -0.92, -1.22, -1.39, -1.08, -0.84, -0.94, -1.05, -1.0, -0.92, -0.92],
  [-0.05, -0.1, -0.2, -0.5, -0.9, -1.2, -1.38, -1.05, -0.82, -0.92, -1.05, -1.0, -0.9, -0.9]
];

const depthN = [0, 300, 700, 1000, 1300, 1500, 1800, 2200, 2600, 3000, 3400, 3800, 4300];
const diffN = [
  [-0.05, 0.0, 0.15, -0.35, -0.8, -1.0, -1.05, -1.1, -1.05, -1.0, -1.1, -1.2, -1.25],
  [-0.05, -0.01, 0.1, -0.38, -0.82, -1.02, -1.08, -1.1, -1.05, -1.01, -1.09, -1.18, -1.22],
  [-0.05, -0.02, 0.05, -0.4, -0.85, -1.05, -1.1, -1.1, -1.05, -1.02, -1.08, -1.15, -1.2],
  [-0.08, -0.05, 0.0, -0.42, -0.88, -1.1, -1.15, -1.12, -1.05, -1.01, -1.06, -1.12, -1.15],
  [-0.1, -0.08, -0.05, -0.45, -0.9, -1.15, -1.2, -1.15, -1.05, -1.0, -1.05, -1.1, -1.1],
  [-0.1, -0.09, -0.08, -0.45, -0.92, -1.18, -1.25, -1.18, -1.05, -1.0, -1.02, -1.05, -1.05],
  [-0.1, -0.1, -0.1, -0.45, -0.95, -1.2, -1.3, -1.2, -1.05, -1.0, -1.0, -1.0, -1.0],
  [-0.05, -0.08, -0.1, -0.45, -0.95, -1.22, -1.32, -1.2, -1.05, -0.99, -0.98, -0.98, -0.96],
  [0.0, -0.05, -0.1, -0.45, -0.95, -1.25, -1.35, -1.2, -1.05, -0.98, -0.95, -0.95, -0.92],
  [0.03, -0.02, -0.1, -0.45, -0.98, -1.25, -1.36, -1.2, -1.05, -0.99, -0.95, -0.93, -0.91],
  [0.05, 0.0, -0.1, -0.45, -1.0, -1.25, -1.37, -1.2, -1.05, -1.0, -0.95, -0.92, -0.9]
];

const depthO = [0, 300, 600, 800, 1000, 1500, 2000, 2500, 3000, 3500, 3800, 4100, 4300];
const diffO = [
  [0.0, -0.05, -0.05, -0.1, -0.08, -0.08, -0.07, -0.05, -0.03, -0.05, -0.2, -0.3, -0.35],
  [-0.02, -0.05, -0.06, -0.12, -0.1, -0.1, -0.08, -0.06, -0.04, -0.02, -0.15, -0.32, -0.45],
  [-0.05, -0.05, -0.08, -0.15, -0.15, -0.12, -0.1, -0.08, -0.05, 0.0, -0.1, -0.35, -0.55],
  [-0.05, -0.06, -0.12, -0.2, -0.18, -0.16, -0.12, -0.1, -0.05, 0.02, 0.0, 0.05, 0.1],
  [-0.05, -0.08, -0.15, -0.25, -0.2, -0.2, -0.15, -0.12, -0.05, 0.05, 0.1, 0.2, 0.25],
  [-0.08, -0.09, -0.18, -0.3, -0.25, -0.24, -0.2, -0.16, -0.08, 0.02, 0.08, 0.18, 0.22],
  [-0.1, -0.1, -0.2, -0.35, -0.3, -0.28, -0.25, -0.2, -0.12, 0.0, 0.05, 0.15, 0.2],
  [-0.08, -0.1, -0.2, -0.38, -0.32, -0.3, -0.28, -0.22, -0.16, -0.05, 0.02, 0.1, 0.15],
  [-0.05, -0.1, -0.2, -0.4, -0.35, -0.3, -0.3, -0.25, -0.2, -0.1, 0.0, 0.05, 0.1],
  [0.2, 0.25, 0.2, 0.3, -0.2, -0.25, -0.25, -0.2, -0.15, -0.08, 0.0, 0.05, 0.05],
  [0.25, 0.2, 0.3, 0.35, -0.15, -0.2, -0.2, -0.15, -0.1, -0.05, 0.0, 0.05, 0.0]
];

// ---- layout ----
const COL_X = [63, 205, 348, 490, 633];
const ROWS = [
  { top: 81, h: 177, min: 0, max: 3.23, ticks: AMP_TICKS, lw: 1.4 },
  { top: 313, h: 179, min: -3.62, max: 1.13, ticks: PHASE_TICKS, lw: 1.1 },
  { top: 563, h: 177, min: -2.09, max: 0.39, ticks: DIF_TICKS, lw: 1.3 }
];
const Y_AXIS_W = 50, X_AXIS_H = 26, PAD_T = 6, PAD_R = 2, PLOT_W = 90;
const FONT = '"Liberation Sans", Arial, sans-serif';

const PANELS = [
  [depthA, [[ipsiA, IPSI], [contraA, CONTRA]]],
  [depthB, [[ipsiB, IPSI], [contraB, CONTRA]]],
  [depthC, [[ipsiC, IPSI], [contraC, CONTRA]]],
  [depthD, [[ipsiD, IPSI], [contraD, CONTRA]]],
  [depthE, [[ipsiE, IPSI], [contraE, CONTRA]]],
  [depthF, [[ipsiF, IPSI], [contraF, CONTRA]]],
  [depthG, [[ipsiG, IPSI], [contraG, CONTRA]]],
  [depthH, [[ipsiH, IPSI], [contraH, CONTRA]]],
  [depthI, [[ipsiI, IPSI], [contraI, CONTRA]]],
  [depthJ, [[ipsiJ, IPSI], [contraJ, CONTRA]]],
  [depthK, [[diffK, DIFF]]],
  [depthL, [[diffL, DIFF]]],
  [depthM, [[diffM, DIFF]]],
  [depthN, [[diffN, DIFF]]],
  [depthO, [[diffO, DIFF]]]
];

const fig = document.getElementById('fig');

function text(str, x, base, size, extra) {
  const d = document.createElement('div');
  d.className = 't';
  d.textContent = str;
  d.style.left = x + 'px';
  d.style.top = (base - 0.85 * size) + 'px';
  d.style.fontSize = size + 'px';
  if (extra) Object.assign(d.style, extra);
  fig.appendChild(d);
  return d;
}

function vtext(str, cx, cy, size) {
  const d = document.createElement('div');
  d.className = 't';
  d.textContent = str;
  d.style.left = cx + 'px';
  d.style.top = cy + 'px';
  d.style.fontSize = size + 'px';
  d.style.transform = 'translate(-50%,-50%) rotate(-90deg)';
  fig.appendChild(d);
}

const fmt = v => String(v).replace('-', '\u2212');

function axisStyle(pad) {
  return {
    grid: { drawOnChartArea: false, drawTicks: true, tickLength: 5, color: '#333', lineWidth: 1 },
    border: { display: true, color: '#333', width: 1.2 },
    ticks: { font: { family: FONT, size: 15 }, color: '#222', padding: pad,
             autoSkip: false, maxRotation: 0, callback: fmt }
  };
}

function makePanel(idx) {
  const col = idx % 5, row = Math.floor(idx / 5);
  const R = ROWS[row];
  const [depth, groups] = PANELS[idx];
  const cv = document.createElement('canvas');
  cv.width = Y_AXIS_W + PLOT_W + PAD_R;
  cv.height = PAD_T + R.h + X_AXIS_H;
  cv.style.left = (COL_X[col] - Y_AXIS_W) + 'px';
  cv.style.top = (R.top - PAD_T) + 'px';
  fig.appendChild(cv);

  // interleave ears per frequency, high to low, so darker lines end on top
  const datasets = [];
  FREQS.forEach((f, k) => {
    groups.forEach(([vals, colors]) => {
      datasets.push({
        label: f + ' Hz',
        data: depth.map((d, i) => ({ x: d, y: vals[k][i] })),
        borderColor: colors[k],
        borderWidth: R.lw,
        order: -datasets.length
      });
    });
  });

  new Chart(cv, {
    type: 'line',
    data: { datasets },
    options: {
      responsive: false,
      animation: false,
      events: [],
      layout: { padding: { top: PAD_T, right: PAD_R, left: 0, bottom: 0 } },
      plugins: { legend: { display: false }, tooltip: { enabled: false } },
      elements: { point: { radius: 0 }, line: { cubicInterpolationMode: 'monotone' } },
      scales: {
        x: Object.assign(axisStyle(0), {
          type: 'linear', min: -130, max: 4330,
          afterBuildTicks: s => { s.ticks = X_TICKS.map(v => ({ value: v })); },
          afterFit: s => { s.height = X_AXIS_H; }
        }),
        y: Object.assign(axisStyle(6), {
          type: 'linear', min: R.min, max: R.max,
          afterBuildTicks: s => { s.ticks = R.ticks.map(v => ({ value: v })); },
          afterFit: s => { s.width = Y_AXIS_W; }
        })
      }
    }
  });

  text(LETTERS[row][col], COL_X[col] + 7, [82, 320, 555][row], 21);
}

for (let i = 0; i < PANELS.length; i++) makePanel(i);

// ---- titles ----
const narrow = { transform: 'scaleX(0.81)', transformOrigin: '0 0' };
text('Rostral', 135, 29, 31, narrow);
text('Caudal', 565, 29, 31, narrow);
ELECTRODES.forEach((e, c) => text(e, [81, 218, 362, 507, 654][c], 56, 15));
vtext('Amp (mV)', 9, 170, 15);
vtext('Phase (cycles)', 9, 406, 15);
vtext('Phase Dif (cycles)', 9, 657, 15);
COL_X.forEach(x => text('Depth (\u00b5m)', x + 15, 788, 15));

// ---- overlay: arrows + legend of panel E ----
const NS = 'http://www.w3.org/2000/svg';
const svg = document.createElementNS(NS, 'svg');
svg.setAttribute('width', 773); svg.setAttribute('height', 793);
svg.style.position = 'absolute'; svg.style.left = '0'; svg.style.top = '0';
fig.appendChild(svg);
function el(tag, attrs) {
  const e = document.createElementNS(NS, tag);
  for (const k in attrs) e.setAttribute(k, attrs[k]);
  svg.appendChild(e);
  return e;
}
el('line', { x1: 239, y1: 15, x2: 532, y2: 15, stroke: '#111', 'stroke-width': 2 });
el('polygon', { points: '528,8.5 548,15 528,21.5', fill: '#111' });
el('line', { x1: 754, y1: 462, x2: 754, y2: 376, stroke: '#111', 'stroke-width': 1.3 });
el('polygon', { points: '750.5,378 754,367 757.5,378', fill: '#111' });

function hex(c) { return [1, 3, 5].map(i => parseInt(c.substr(i, 2), 16)); }
function mix(a, b, t) {
  const A = hex(a), B = hex(b);
  return 'rgb(' + A.map((v, i) => Math.round(v + (B[i] - v) * t)).join(',') + ')';
}
const LEG_N = 26, LEG_TOP = 122.3, LEG_BOT = 240.3;
[[642.7, 663, CONTRA], [673, 695, IPSI], [706.7, 727.7, DIFF]].forEach(([x1, x2, cols]) => {
  for (let i = 0; i < LEG_N; i++) {
    const y = LEG_TOP + (LEG_BOT - LEG_TOP) * i / (LEG_N - 1);
    el('line', { x1, x2, y1: y, y2: y, stroke: mix(cols[0], cols[cols.length - 1], i / (LEG_N - 1)), 'stroke-width': 1.6 });
  }
});
text('Contra Ipsi', 638, 108.5, 10.5);
text('Contra', 701, 99.5, 10.5);
text('- Ipsi', 704, 114, 10.5);
['2000 Hz', '1800 Hz', '1600 Hz', '1400 Hz', '1200 Hz', '1000 Hz'].forEach((s, i) => {
  text(s, 731, [127, 150.5, 173.5, 198.5, 219.5, 244.5][i], 8.5);
});
text('2000 Hz', 732, 360, 10.5);
text('1000 Hz', 732, 477, 10.5);
</script>
</body>
</html>
